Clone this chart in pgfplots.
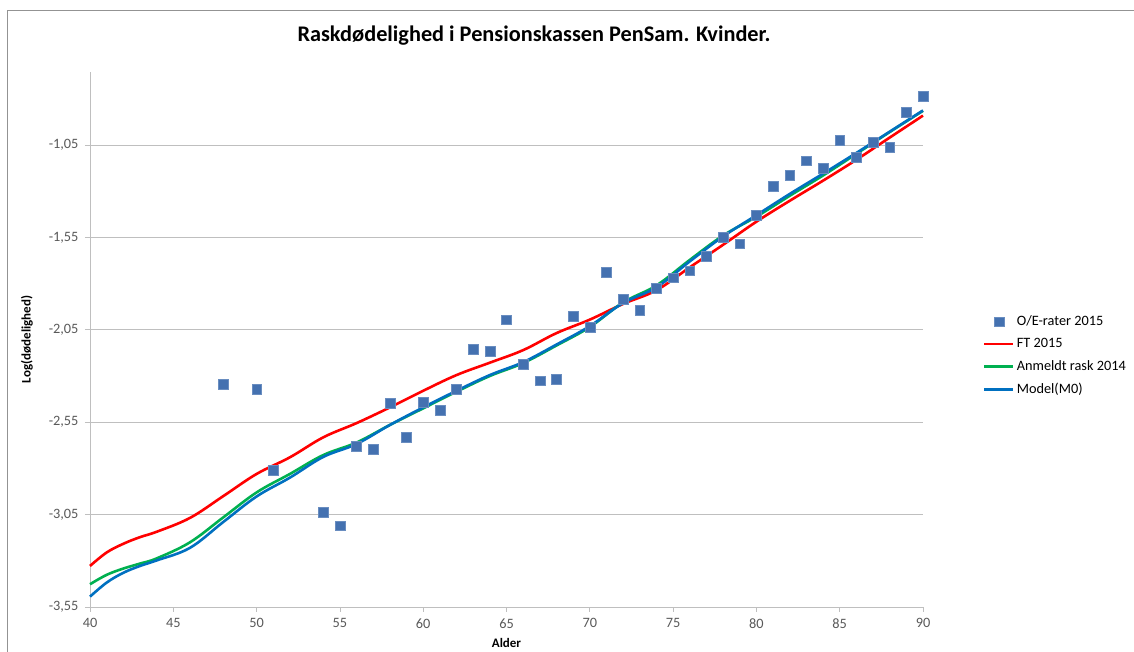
\documentclass[border=0pt]{standalone}
\usepackage{pgfplots}
\pgfplotsset{compat=1.18}
\usepackage{fontspec}
\setmainfont{Carlito}
\definecolor{ptblue}{HTML}{4471B0}
\definecolor{ftred}{HTML}{FF0000}
\definecolor{angreen}{HTML}{00B050}
\definecolor{mblue}{HTML}{0070C0}
\definecolor{gridg}{HTML}{BFBFBF}
\definecolor{txtg}{HTML}{595959}
\begin{document}
\begin{tikzpicture}[x=1pt,y=1pt]
\useasboundingbox (0,0) rectangle (1134,652);
\draw[color=gray!85, line width=0.9pt] (7,0) -- (7,642) -- (1134,642);
\node[font=\bfseries\fontsize{22.3}{26}\selectfont, anchor=center] at (534,616) {Raskdødelighed i Pensionskassen PenSam. Kvinder.};
\begin{axis}[
  at={(90pt,45pt)}, anchor=south west,
  scale only axis, width=833pt, height=535pt,
  xmin=40, xmax=90, ymin=-3.55, ymax=-0.655,
  xtick={40,45,...,90},
  ytick={-3.55,-3.05,-2.55,-2.05,-1.55,-1.05},
  axis x line*=bottom, axis y line*=left,
  axis line style={draw=gridg, line width=0.8pt, -},
  tick align=outside, major tick length=5pt,
  tick style={draw=gridg, line width=0.8pt},
  ymajorgrids, grid style={draw=gridg, line width=0.8pt},
  /pgf/number format/assume math mode=true,
  yticklabel style={/pgf/number format/use comma, /pgf/number format/fixed, /pgf/number format/fixed zerofill, /pgf/number format/precision=2},
  ticklabel style={font=\fontsize{14.3}{16}\selectfont, text=txtg},
  every x tick label/.append style={yshift=-3pt},
  every y tick label/.append style={xshift=-3pt},
  xlabel={Alder}, ylabel={Log(dødelighed)},
  every axis x label/.style={at={(axis description cs:0.5,-0.067)}, anchor=center, font=\bfseries\fontsize{13}{15}\selectfont},
  every axis y label/.style={at={(axis description cs:-0.0756,0.5)}, rotate=90, anchor=center, font=\bfseries\fontsize{13}{15}\selectfont},
  legend style={at={(axis description cs:1.072,0.548)}, anchor=north west, draw=none, fill=none,
    font=\fontsize{14.3}{16}\selectfont, row sep=7.2pt, inner sep=0pt, cells={anchor=west}},
  legend cell align=left,
  legend image code/.code={\draw[mark repeat=2,mark phase=2,#1] plot coordinates {(0pt,0pt) (14.5pt,0pt) (29pt,0pt)};},
  clip=false,
]
\addlegendimage{only marks, mark=square*, mark size=4.9pt, mark options={fill=ptblue, draw=ptblue!80}}
\addlegendentry{O/E-rater 2015}
\addplot[ftred, line width=2.6pt, smooth, tension=0.6] coordinates {
(40,-3.328)(41,-3.255)(42,-3.208)(43,-3.172)(44,-3.143)(46,-3.068)(48,-2.950)(50,-2.830)(52,-2.740)(54,-2.632)(56,-2.555)(58,-2.470)(60,-2.380)(62,-2.295)(64,-2.228)(66,-2.160)(68,-2.068)(70,-1.995)(72,-1.910)(74,-1.836)(76,-1.712)(78,-1.590)(80,-1.465)(82,-1.352)(84,-1.243)(86,-1.130)(88,-1.010)(90,-0.891)};
\addlegendentry{FT 2015}
\addplot[angreen, line width=2.6pt, smooth, tension=0.6] coordinates {
(40,-3.427)(41,-3.376)(42,-3.342)(43,-3.315)(44,-3.287)(46,-3.200)(48,-3.065)(50,-2.930)(52,-2.830)(54,-2.728)(56,-2.660)(58,-2.565)(60,-2.475)(62,-2.385)(64,-2.300)(66,-2.230)(68,-2.135)(70,-2.035)(72,-1.902)(74,-1.810)(76,-1.672)(78,-1.540)(80,-1.438)(82,-1.325)(84,-1.215)(86,-1.098)(88,-0.980)(90,-0.865)};
\addlegendentry{Anmeldt rask 2014}
\addplot[mblue, line width=2.6pt, smooth, tension=0.6] coordinates {
(40,-3.494)(41,-3.418)(42,-3.365)(43,-3.328)(44,-3.298)(46,-3.230)(48,-3.090)(50,-2.952)(52,-2.850)(54,-2.738)(56,-2.668)(58,-2.565)(60,-2.470)(62,-2.380)(64,-2.295)(66,-2.225)(68,-2.130)(70,-2.030)(72,-1.905)(74,-1.820)(76,-1.680)(78,-1.545)(80,-1.430)(82,-1.315)(84,-1.205)(86,-1.093)(88,-0.978)(90,-0.863)};
\addlegendentry{Model(M0)}
\addplot[only marks, mark=square*, mark size=4.9pt, mark options={fill=ptblue, draw=ptblue!80}, forget plot] coordinates {
(48,-2.345)(50,-2.372)(51,-2.810)(54,-3.036)(55,-3.110)(56,-2.680)(57,-2.698)(58,-2.446)(59,-2.630)(60,-2.442)(61,-2.487)(62,-2.373)(63,-2.154)(64,-2.168)(65,-1.995)(66,-2.235)(67,-2.325)(68,-2.318)(69,-1.977)(70,-2.036)(71,-1.737)(72,-1.885)(73,-1.946)(74,-1.827)(75,-1.768)(76,-1.730)(77,-1.653)(78,-1.548)(79,-1.584)(80,-1.430)(81,-1.273)(82,-1.213)(83,-1.135)(84,-1.177)(85,-1.024)(86,-1.118)(87,-1.035)(88,-1.064)(89,-0.873)(90,-0.786)};
\end{axis}
\end{tikzpicture}
\end{document}
